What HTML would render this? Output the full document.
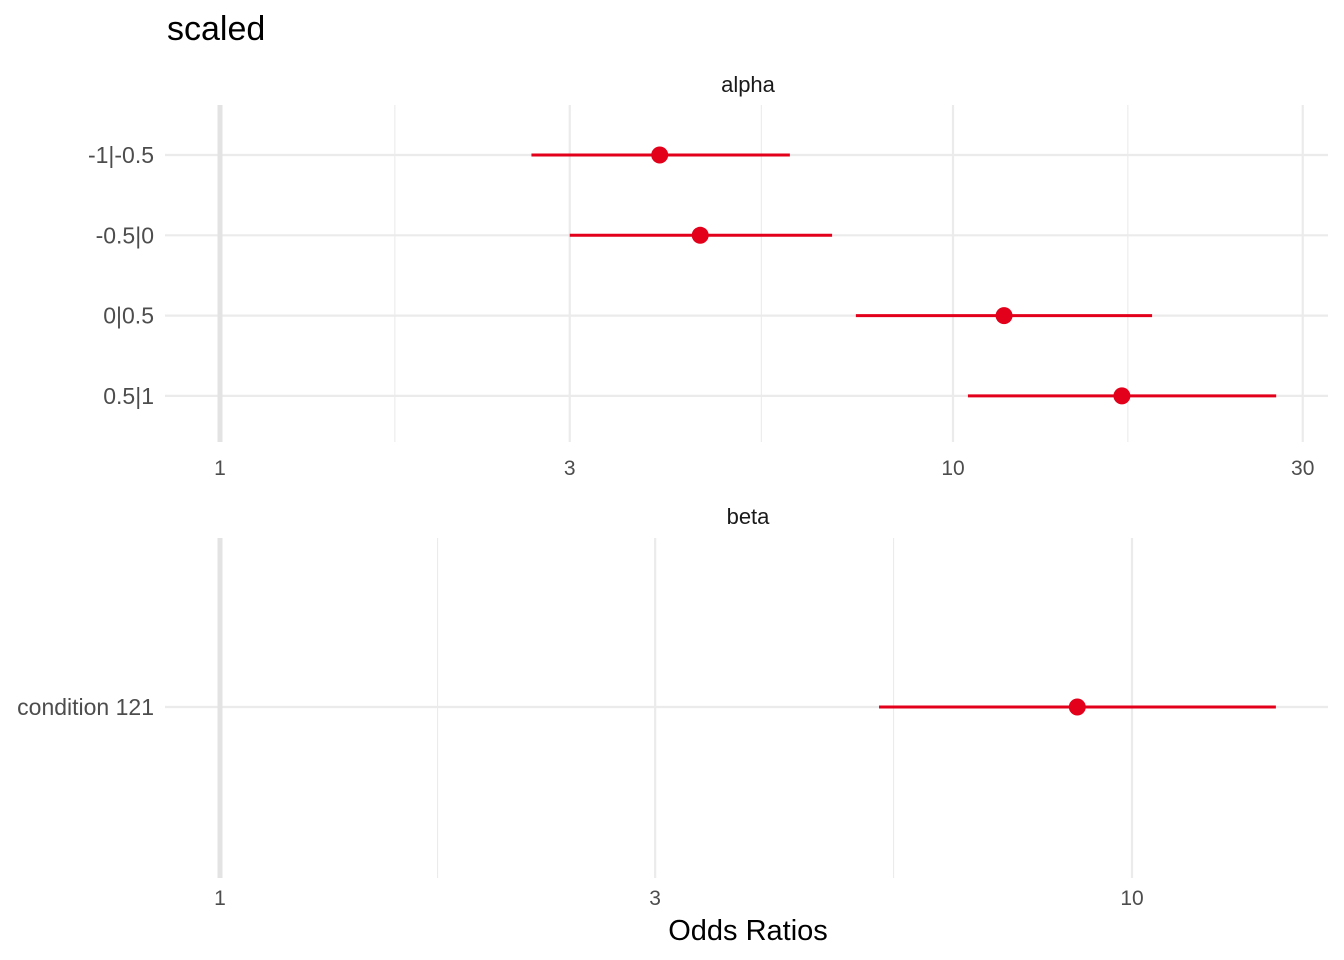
<!DOCTYPE html>
<html><head><meta charset="utf-8">
<style>body{margin:0;background:#fff}svg{display:block;font-family:"Liberation Sans",Arial,sans-serif}</style>
</head><body>
<svg id="chart" width="1344" height="960" xmlns="http://www.w3.org/2000/svg">
<text x="167" y="40" font-size="34" fill="#000">scaled</text>
<text x="748" y="92" font-size="22" text-anchor="middle" fill="#1a1a1a">alpha</text>
<text x="748" y="524" font-size="22" text-anchor="middle" fill="#1a1a1a">beta</text>
<text x="748" y="940" font-size="29" text-anchor="middle" fill="#000">Odds Ratios</text>
<g id="g"></g>
</svg>
<script>
const alphaTerms = ["-1|-0.5","-0.5|0","0|0.5","0.5|1"];
const alphaEst = [3.98, 4.52, 11.74, 17.0];
const alphaLo = [2.66, 3.0, 7.37, 10.48];
const alphaHi = [5.99, 6.84, 18.69, 27.6];
const alphaTicks = [1, 3, 10, 30];
const alphaMinor = [1.732, 5.477, 17.32];
const betaTerms = ["condition 121"];
const betaEst = [8.71];
const betaLo = [5.28];
const betaHi = [14.38];
const betaTicks = [1, 3, 10];
const betaMinor = [1.732, 5.477];

const NS="http://www.w3.org/2000/svg";
const g=document.getElementById('g');
function mk(t,a){const e=document.createElementNS(NS,t);for(const k in a)e.setAttribute(k,a[k]);g.appendChild(e);return e;}
function panel(name,terms,est,lo,hi,ticks,minor,x0,ppd,top,bot,rowY,tickY){
  const xs=v=>x0+Math.log10(v)*ppd;
  minor.forEach(v=>{const l=mk('line',{x1:xs(v),x2:xs(v),y1:top,y2:bot,stroke:'#ebebeb','stroke-width':1.1});
    
    });
  ticks.forEach(v=>{const l=mk('line',{x1:xs(v),x2:xs(v),y1:top,y2:bot,stroke:'#ebebeb','stroke-width':2.2});
    
    
    const t=mk('text',{x:xs(v),y:tickY,'font-size':21,'text-anchor':'middle',fill:'#4d4d4d'});t.textContent=v;
    
    });
  terms.forEach((term,i)=>{const y=rowY(i);
    const l=mk('line',{x1:165,x2:1328,y1:y,y2:y,stroke:'#ebebeb','stroke-width':2.2});
    
    
    const t=mk('text',{x:154,y:y+8,'font-size':23,'text-anchor':'end',fill:'#4d4d4d'});t.textContent=term;
    
    });
  const r=mk('line',{x1:xs(1),x2:xs(1),y1:top,y2:bot,stroke:'#e3e3e3','stroke-width':5});
  
  
  terms.forEach((term,i)=>{const y=rowY(i);
    const e=mk('line',{x1:xs(lo[i]),x2:xs(hi[i]),y1:y,y2:y,stroke:'#e2001a','stroke-width':3});
    
    
    const c=mk('circle',{cx:xs(est[i]),cy:y,r:8.5,fill:'#e2001a'});
    
    });
}
panel('alpha',alphaTerms,alphaEst,alphaLo,alphaHi,alphaTicks,alphaMinor,220,733,105,442,i=>155+i*80.3,475);
panel('beta',betaTerms,betaEst,betaLo,betaHi,betaTicks,betaMinor,220,912,538,878,i=>707,905);
</script>
</body></html>
